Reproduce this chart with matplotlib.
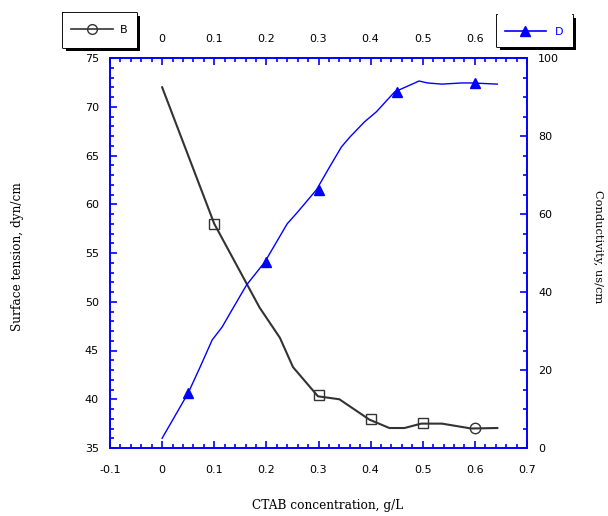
import matplotlib
matplotlib.use('Agg')
import matplotlib.pyplot as plt
import matplotlib.patches as mpatches
from matplotlib.ticker import MultipleLocator
from matplotlib.lines import Line2D

# curve B: surface tension (left axis)
b_x = [0, 0.1, 0.187, 0.226, 0.251, 0.299, 0.34, 0.398, 0.436, 0.465, 0.497, 0.537, 0.593, 0.643]
b_y = [72.0, 58.0, 49.4, 46.3, 43.3, 40.3, 40.0, 37.9, 37.05, 37.05, 37.5, 37.5, 37.0, 37.05]
b_mx = [0.1, 0.3, 0.4, 0.5]
b_my = [58.0, 40.4, 38.0, 37.6]
b_cx = [0.6]
b_cy = [37.1]

# curve D: conductivity (right axis)
d_x = [0, 0.05, 0.073, 0.096, 0.115, 0.134, 0.162, 0.197, 0.24, 0.26, 0.296, 0.321, 0.344,
       0.36, 0.388, 0.411, 0.446, 0.493, 0.509, 0.537, 0.574, 0.595, 0.643]
d_y = [2.5, 14.1, 20.8, 27.7, 31.0, 35.4, 41.8, 47.7, 57.5, 60.5, 66.2, 72.0, 77.2,
       79.7, 83.6, 86.2, 91.3, 94.1, 93.6, 93.3, 93.6, 93.6, 93.3]
d_mx = [0.05, 0.2, 0.3, 0.45, 0.6]
d_my = [14.1, 47.7, 66.2, 91.3, 93.6]

bottom_ticks = [-0.1, 0, 0.1, 0.2, 0.3, 0.4, 0.5, 0.6, 0.7]
bottom_labels = ['-0.1', '0', '0.1', '0.2', '0.3', '0.4', '0.5', '0.6', '0.7']
top_ticks = [0, 0.1, 0.2, 0.3, 0.4, 0.5, 0.6]
top_labels = ['0', '0.1', '0.2', '0.3', '0.4', '0.5', '0.6']

W, H = 608, 516
blue = '#0000ff'
fig = plt.figure(figsize=(6.08, 5.16), dpi=100)

# legend boxes with solid drop shadow (drawn below the axes so tick labels stay on top)
def box(x0, y0, x1, y1, top=True):
    sh = mpatches.Rectangle(((x0+3)/W, 1-(y1+3)/H), (x1-x0)/W, (y1-y0)/H,
                            transform=fig.transFigure, facecolor='black', lw=0, zorder=0)
    fr = mpatches.Rectangle((x0/W, 1-y1/H), (x1-x0)/W, (y1-y0)/H,
                            transform=fig.transFigure, facecolor='white', lw=0, zorder=0)
    fig.patches.extend([sh, fr])
    xs = [x0, x0, x1, x1]
    ys = [y0, y1, y1, y0]
    if top:
        xs.append(x0)
        ys.append(y0)
    fig.lines.append(Line2D([x/W for x in xs], [1-y/H for y in ys], transform=fig.transFigure,
                            color='black', lw=1.3, zorder=0))

box(63, 13, 137, 48)
box(497, 15, 573, 47, top=False)

ax = fig.add_axes([110/W, 1-448/H, (527-110)/W, (448-58)/H])
ax.patch.set_alpha(0)
ax2 = ax.twinx()

ax.plot(b_x, b_y, color='#333333', lw=1.5, zorder=3)
ax.plot(b_mx, b_my, ls='none', marker='s', ms=6.5, mfc='none', mec='#333333', mew=1.0, zorder=4)
ax.plot(b_cx, b_cy, ls='none', marker='o', ms=7.5, mfc='none', mec='#333333', mew=1.0, zorder=4)

ax2.plot(d_x, d_y, color=blue, lw=1.0)
ax2.plot(d_mx, d_my, ls='none', marker='^', ms=6.5, color=blue)

ax.set_xlim(-0.1, 0.7)
ax.set_ylim(35, 75)
ax2.set_ylim(0, 100)

ax.set_xticks(bottom_ticks)
ax.set_xticklabels(bottom_labels)
ax.xaxis.set_minor_locator(MultipleLocator(0.02))
ax.yaxis.set_major_locator(MultipleLocator(5))
ax.yaxis.set_minor_locator(MultipleLocator(1))
ax2.yaxis.set_major_locator(MultipleLocator(20))
ax2.yaxis.set_minor_locator(MultipleLocator(5))

for a in (ax, ax2):
    for s in a.spines.values():
        s.set_color(blue)
        s.set_linewidth(1.2)
ax.tick_params(which='both', direction='in', color=blue, top=True, labelsize=8, width=1.2)
ax.tick_params(which='major', length=5)
ax.tick_params(which='minor', length=3)
ax.tick_params(axis='x', pad=12)
ax.tick_params(axis='y', pad=8)
ax2.tick_params(which='both', direction='in', color=blue, labelsize=8, width=1.2)
ax2.tick_params(which='major', length=5, pad=8)
ax2.tick_params(which='minor', length=3)

sec = ax.secondary_xaxis('top')
sec.set_xticks(top_ticks)
sec.set_xticklabels(top_labels)
sec.tick_params(length=0, labelsize=8, pad=10)
sec.spines['top'].set_visible(False)

fig.text(328/W, 1-505/H, 'CTAB concentration, g/L', family='DejaVu Serif', fontsize=8.7,
         ha='center', va='center')
fig.text(18/W, 1-257/H, 'Surface tension, dyn/cm', family='DejaVu Serif', fontsize=8.7,
         ha='center', va='center', rotation=90)
fig.text(598/W, 1-247/H, 'Conductivity, us/cm', family='DejaVu Serif', fontsize=8.2,
         ha='center', va='center', rotation=270)

hb = Line2D([], [], color='#333333', lw=1.2, marker='o', mfc='none', mec='#333333', ms=7)
hd = Line2D([], [], color=blue, lw=1.2, marker='^', ms=6.5)
lb = fig.legend([hb], ['B'], loc='center', bbox_to_anchor=(99/W, 1-30/H), frameon=False,
                fontsize=8, handlelength=3.8, handletextpad=0.6, borderpad=0)
ld = fig.legend([hd], ['D'], loc='center', bbox_to_anchor=(534/W, 1-32/H), frameon=False,
                fontsize=8, handlelength=3.7, handletextpad=0.8, borderpad=0)
ld.get_texts()[0].set_color(blue)

fig.savefig('out.png', dpi=100)
